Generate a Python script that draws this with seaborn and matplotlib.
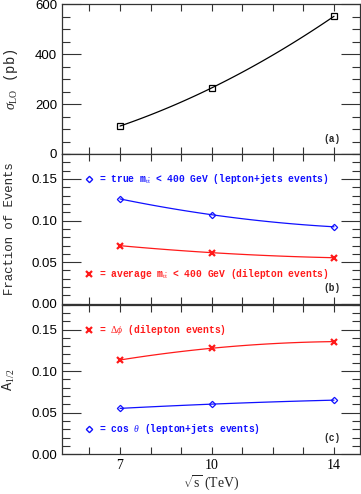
import numpy as np
import matplotlib
matplotlib.use("Agg")
import matplotlib.pyplot as plt
from matplotlib.ticker import MultipleLocator, FixedLocator, FormatStrFormatter
import seaborn as sns

# --- Data ---
energy = [7, 10, 14]
sigma_lo = [112, 265, 552]
frac_true_mtt = [0.126, 0.107, 0.0925]
frac_avg_mtt = [0.0698, 0.0614, 0.0553]
asym_dphi = [0.1134, 0.1275, 0.1355]
asym_costheta = [0.0552, 0.0603, 0.0651]
xtick_labels = ["7", "10", "14"]

BLUE = "#1010ff"
RED = "#ff1a1a"

sns.set_style("ticks")
plt.rcParams["font.family"] = ["Liberation Sans", "DejaVu Sans"]
plt.rcParams["mathtext.fontset"] = "custom"
plt.rcParams["mathtext.rm"] = "Liberation Serif"
plt.rcParams["mathtext.it"] = "Liberation Serif:italic"
plt.rcParams["mathtext.bf"] = "Liberation Serif:bold"

fig = plt.figure(figsize=(3.61, 4.94), dpi=100)
left, width, height = 0.1717, 0.8255, 0.3030
bottoms = [0.6883, 0.3852, 0.0804]
axes = [fig.add_axes([left, b, width, height]) for b in bottoms]

mono = dict(family="Liberation Mono", fontsize=6.9, fontweight="bold")
label_font = dict(family="Liberation Mono", fontsize=8.9)


def curve(ax, y, color, marker, ms, mew):
    # smooth line through the points, then the markers
    sns.regplot(x=np.array(energy, float), y=np.array(y, float), order=2, ci=None,
                scatter=False, ax=ax, line_kws=dict(color=color, lw=0.9))
    ax.plot(energy, y, linestyle="none", marker=marker, ms=ms, mew=mew,
            mfc="none", mec=color)


def style(ax, ymax, major, minor):
    ax.set_xlim(5.1, 14.85)
    ax.set_ylim(0, ymax)
    ax.xaxis.set_major_locator(FixedLocator(energy))
    ax.xaxis.set_minor_locator(MultipleLocator(1))
    ax.yaxis.set_major_locator(MultipleLocator(major))
    ax.yaxis.set_minor_locator(MultipleLocator(minor))
    ax.tick_params(which="both", direction="in", top=True, right=True,
                   width=0.8, colors="#333333", labelcolor="black")
    ax.tick_params(axis="y", which="major", length=14, labelsize=9.5)
    ax.tick_params(axis="y", which="minor", length=6)
    ax.tick_params(axis="x", which="both", length=5)
    for s in ax.spines.values():
        s.set_linewidth(0.9)
        s.set_color("#333333")
    ax.set_xlabel("")


# (a) cross section
ax = axes[0]
curve(ax, sigma_lo, "black", "s", 4.8, 0.9)
style(ax, 600, 200, 50)
ax.set_ylabel(r"$\sigma_{\rm LO}$ (pb)", family="Liberation Mono", fontsize=10)
ax.text(0.935, 0.10, "(a)", transform=ax.transAxes, ha="right", va="center", **mono)

# (b) fraction of events
ax = axes[1]
curve(ax, frac_true_mtt, BLUE, "D", 3.2, 0.9)
curve(ax, frac_avg_mtt, RED, "x", 4.5, 1.6)
style(ax, 0.18, 0.05, 0.01)
ax.yaxis.set_major_formatter(FormatStrFormatter("%.2f"))
ax.set_ylabel("Fraction of Events", **label_font)
ax.plot([6.0], [0.150], linestyle="none", marker="D", ms=3.2, mfc="none", mec=BLUE)
ax.text(6.3, 0.150, r"= true m$_{\mathrm{t\bar{t}}}$ < 400 GeV (lepton+jets events)",
        color=BLUE, va="center", **mono)
ax.plot([6.0], [0.036], linestyle="none", marker="x", ms=4.5, mew=1.6, mec=RED)
ax.text(6.3, 0.036, r"= average m$_{\mathrm{t\bar{t}}}$ < 400 GeV (dilepton events)",
        color=RED, va="center", **mono)
ax.text(0.935, 0.107, "(b)", transform=ax.transAxes, ha="right", va="center", **mono)

# (c) asymmetries
ax = axes[2]
curve(ax, asym_dphi, RED, "x", 4.5, 1.6)
curve(ax, asym_costheta, BLUE, "D", 3.2, 0.9)
style(ax, 0.18, 0.05, 0.01)
ax.yaxis.set_major_formatter(FormatStrFormatter("%.2f"))
ax.set_ylabel(r"A$_{1/2}$", family="Liberation Mono", fontsize=10)
ax.plot([6.0], [0.150], linestyle="none", marker="x", ms=4.5, mew=1.6, mec=RED)
ax.text(6.3, 0.150, r"= $\Delta\phi$ (dilepton events)", color=RED, va="center", **mono)
ax.plot([6.0], [0.030], linestyle="none", marker="D", ms=3.2, mfc="none", mec=BLUE)
ax.text(6.3, 0.030, r"= cos $\theta$ (lepton+jets events)", color=BLUE, va="center", **mono)
ax.text(0.935, 0.11, "(c)", transform=ax.transAxes, ha="right", va="center", **mono)
ax.set_xticklabels(xtick_labels, family="Liberation Serif", fontsize=10)
ax.set_xlabel(r"$\sqrt{\rm s}$ (TeV)", family="Liberation Serif", fontsize=10, labelpad=1)

for a in axes[:2]:
    a.tick_params(axis="x", labelbottom=False)

axes[0].yaxis.set_label_coords(-0.14, 0.5)
axes[1].yaxis.set_label_coords(-0.155, 0.5)
axes[2].yaxis.set_label_coords(-0.15, 0.5)

fig.savefig("out.png", dpi=100)
